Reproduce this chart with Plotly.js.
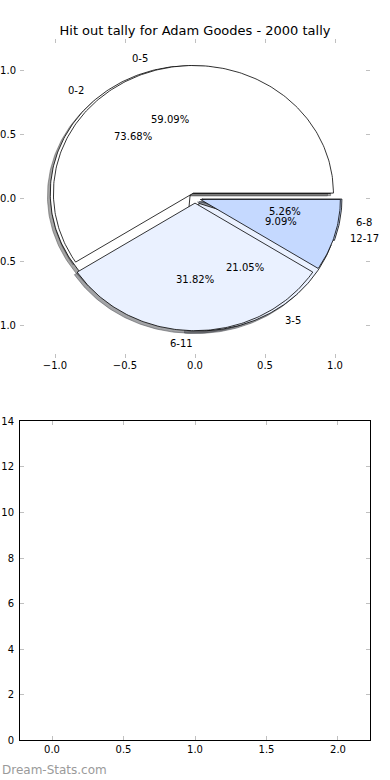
<!DOCTYPE html>
<html>
<head>
<meta charset="utf-8">
<script src="https://cdn.plot.ly/plotly-3.0.1.min.js"></script>
<style>html,body{margin:0;padding:0;background:#fff;}#chart{width:390px;height:780px;}</style>
</head>
<body>
<div id="chart"></div>
<script>
// ---- data ----
const titleText = "Hit out tally for Adam Goodes - 2000 tally";
const pie1Labels = ["0-2", "3-5", "6-8"];
const pie1Values = [14, 4, 1];          // 73.68%, 21.05%, 5.26%
const pie2Labels = ["0-5", "6-11", "12-17"];
const pie2Values = [13, 7, 2];          // 59.09%, 31.82%, 9.09%
const sliceColors = ["#ffffff", "#eaf1ff", "#c5d9ff"];
const pie1Explode = 0.05;
const pie2Explode = 0.04;
const topTicks = [-1, -0.5, 0, 0.5, 1];
const bottomXTicks = [0, 0.5, 1, 1.5, 2];
const bottomYTicks = [0, 2, 4, 6, 8, 10, 12, 14];
const watermark = "Dream-Stats.com";

// ---- pie geometry (matplotlib style: start at 0 deg, counterclockwise) ----
function buildPie(values, labels, explode) {
  const total = values.reduce((a, b) => a + b, 0);
  let t1 = 0;
  const out = [];
  values.forEach((v, i) => {
    const frac = v / total;
    const t2 = t1 + 360 * frac;
    const tm = (t1 + t2) / 2 * Math.PI / 180;
    const cx = explode * Math.cos(tm), cy = explode * Math.sin(tm);
    const xs = [cx], ys = [cy];
    const n = Math.max(4, Math.ceil(t2 - t1));
    for (let k = 0; k <= n; k++) {
      const a = (t1 + (t2 - t1) * k / n) * Math.PI / 180;
      xs.push(cx + Math.cos(a));
      ys.push(cy + Math.sin(a));
    }
    xs.push(cx); ys.push(cy);
    out.push({
      xs, ys, color: sliceColors[i],
      label: labels[i],
      lx: cx + 1.1 * Math.cos(tm), ly: cy + 1.1 * Math.sin(tm),
      pct: (frac * 100).toFixed(2) + "%",
      px: cx + 0.6 * Math.cos(tm), py: cy + 0.6 * Math.sin(tm)
    });
    t1 = t2;
  });
  return out;
}
const pie1 = buildPie(pie1Values, pie1Labels, pie1Explode);
const pie2 = buildPie(pie2Values, pie2Labels, pie2Explode);

function shadowColor(hex) {
  const r = parseInt(hex.slice(1, 3), 16), g = parseInt(hex.slice(3, 5), 16), b = parseInt(hex.slice(5, 7), 16);
  return `rgba(${Math.round(r * 0.3)},${Math.round(g * 0.3)},${Math.round(b * 0.3)},0.5)`;
}

const traces = [];
[pie1, pie2].forEach(p => p.forEach(w => {
  const c = shadowColor(w.color);
  traces.push({
    type: "scatter", mode: "lines", x: w.xs.map(v => v - 0.02), y: w.ys.map(v => v - 0.02),
    fill: "toself", fillcolor: c, line: {color: c, width: 1}, hoverinfo: "skip", showlegend: false
  });
}));
[pie1, pie2].forEach(p => p.forEach(w => {
  traces.push({
    type: "scatter", mode: "lines", x: w.xs, y: w.ys,
    fill: "toself", fillcolor: w.color, line: {color: "#000000", width: 0.8}, hoverinfo: "skip", showlegend: false
  });
}));
traces.push({type: "scatter", x: [], y: [], xaxis: "x2", yaxis: "y2", showlegend: false});

const annotations = [];
[pie1, pie2].forEach(p => p.forEach(w => {
  annotations.push({
    x: w.lx, y: w.ly, xref: "x", yref: "y", text: w.label, showarrow: false,
    xanchor: w.lx > 0 ? "left" : "right", yanchor: "middle", font: {size: 10, color: "#000"}
  });
  annotations.push({
    x: w.px, y: w.py, xref: "x", yref: "y", text: w.pct, showarrow: false,
    xanchor: "center", yanchor: "middle", font: {size: 10, color: "#000"}
  });
}));
annotations.push({
  x: 0, y: 1 - 770 / 780, xref: "paper", yref: "paper", text: watermark, showarrow: false,
  xanchor: "left", yanchor: "middle", font: {size: 12, color: "#9a9a9a"}
});

const xdom = [20 / 390, 370 / 390];
const tickStyle = {ticks: "inside", ticklen: 4, tickwidth: 1, tickcolor: "#c0c0c0",
  showgrid: false, zeroline: false, tickformat: ".1f", fixedrange: true};

const layout = {
  width: 390, height: 780,
  margin: {l: 0, r: 0, t: 0, b: 0},
  paper_bgcolor: "#ffffff", plot_bgcolor: "rgba(0,0,0,0)",
  font: {family: "DejaVu Sans", size: 10, color: "#000"},
  showlegend: false,
  title: {text: titleText, font: {size: 13, family: "DejaVu Sans", color: "#000"},
    x: 0.5, xref: "paper", xanchor: "center", y: 1 - 30 / 780, yref: "container", yanchor: "middle"},
  xaxis: Object.assign({}, tickStyle, {domain: xdom, range: [-1.25, 1.25], tickvals: topTicks,
    showline: false, mirror: "ticks", anchor: "y"}),
  yaxis: Object.assign({}, tickStyle, {domain: [1 - 357.5 / 780, 1 - 38.5 / 780], range: [-1.25, 1.25],
    tickvals: topTicks, showline: false, mirror: "ticks", anchor: "x", ticklabelstandoff: 3}),
  xaxis2: Object.assign({}, tickStyle, {domain: xdom, range: [-0.224, 2.224], tickvals: bottomXTicks,
    showline: true, linecolor: "#000", linewidth: 1, mirror: "ticks", anchor: "y2"}),
  yaxis2: Object.assign({}, tickStyle, {domain: [1 - 740.3 / 780, 1 - 421.3 / 780], range: [0, 14],
    tickvals: bottomYTicks, tickformat: "d", showline: true, linecolor: "#000", linewidth: 1, mirror: "ticks", anchor: "x2", ticklabelstandoff: 3}),
  annotations
};

Plotly.newPlot("chart", traces, layout, {displayModeBar: false, staticPlot: true});
</script>
</body>
</html>
